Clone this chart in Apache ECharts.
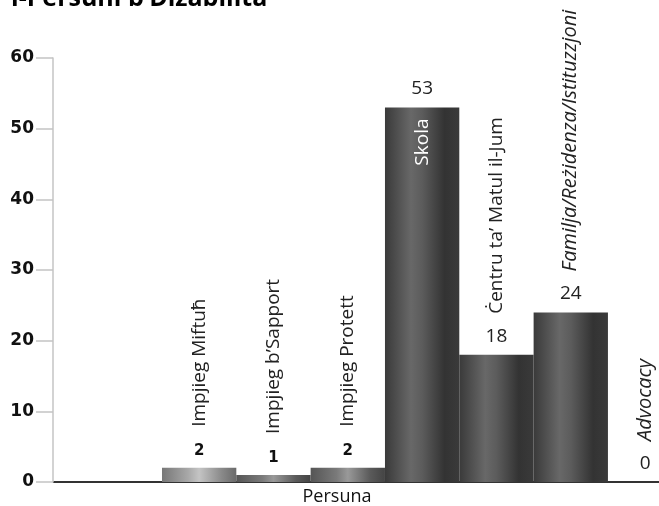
<!DOCTYPE html>
<html>
<head>
<meta charset="utf-8">
<script src="https://cdn.jsdelivr.net/npm/echarts@6/dist/echarts.min.js"></script>
<style>
  html, body { margin: 0; padding: 0; background: #fff; }
  #chart { width: 659px; height: 506px; }
</style>
</head>
<body>
<div id="chart"></div>
<script>
// data
const categories = ['Impjieg Miftuħ', 'Impjieg b’Sapport', 'Impjieg Protett', 'Skola',
  'Ċentru ta’ Matul il-Jum', 'Familja/Reżidenza/Istituzzjoni', 'Advocacy'];
const values = [2, 1, 2, 53, 18, 24, 0];
const yMax = 60;
const yStep = 10;
const xName = 'Persuna';
const titleText = 'l-Persuni b’Diżabilità';

// styles per bar (kept apart from the data)
const shades = {
  light: ['#777777', '#a8a8a8', '#c4c4c4', '#8a8a8a', '#6a6a6a'],
  mid: ['#555555', '#7a7a7a', '#999999', '#5a5a5a', '#444444'],
  dark: ['#3a3a3a', '#686868', '#5c5c5c', '#333333', '#3a3a3a']
};
const barShade = ['light', 'mid', 'mid', 'dark', 'dark', 'dark', 'dark'];
const boldValue = [true, true, true, false, false, false, false];
const italicName = [false, false, false, false, false, true, true];
const insideName = [false, false, false, true, false, false, false];

function grad(s) {
  return new echarts.graphic.LinearGradient(0, 0, 1, 0, [
    { offset: 0, color: s[0] },
    { offset: 0.35, color: s[1] },
    { offset: 0.5, color: s[2] },
    { offset: 0.8, color: s[3] },
    { offset: 1, color: s[4] }
  ]);
}

let chart = echarts.init(document.getElementById('chart'));

const axisData = [''].concat(categories);

const barData = ['-'].concat(values.map((v, i) => ({
  value: v,
  itemStyle: { color: grad(shades[barShade[i]]) },
  label: boldValue[i]
    ? { fontFamily: 'DejaVu Sans', fontWeight: 'bold', fontSize: 15, color: '#111' }
    : { fontFamily: 'Open Sans', fontWeight: 'normal', fontSize: 19, color: '#222' }
})));

const nameData = ['-'].concat(values.map((v, i) => {
  let label = italicName[i] ? { fontStyle: 'italic', fontSize: 20 } : {};
  if (insideName[i]) {
    label = { position: 'insideTop', align: 'right', distance: 11, color: '#fff' };
  }
  return { value: v, label: label };
}));

let options = {
  animation: false,
  title: {
    text: xName,
    left: 337,
    top: 488,
    padding: 0,
    textAlign: 'center',
    textStyle: { fontFamily: 'Open Sans', fontWeight: 'normal', fontSize: 18, color: '#111' }
  },
  grid: {
    left: 87.67, width: 594.6, top: 58, bottom: 24,
    containLabel: false, outerBoundsMode: 'none'
  },
  xAxis: {
    type: 'category',
    data: axisData,
    axisLine: { lineStyle: { color: '#333', width: 2 } },
    axisTick: { show: false },
    axisLabel: { show: false }
  },
  yAxis: {
    type: 'value',
    min: 0,
    max: yMax,
    interval: yStep,
    offset: 34.67,
    axisLine: { show: true, lineStyle: { color: '#c4c4c4', width: 1.5 } },
    axisTick: { show: true, length: 17, lineStyle: { color: '#c4c4c4', width: 1.5 } },
    axisLabel: { margin: 19, fontFamily: 'DejaVu Sans', fontWeight: 'bold', fontSize: 17, color: '#111' },
    splitLine: { show: false }
  },
  series: [
    {
      type: 'bar',
      data: barData,
      barCategoryGap: 0,
      barGap: '-100%',
      label: { show: true, position: 'top', distance: 9, formatter: '{c}' }
    },
    {
      type: 'bar',
      data: nameData,
      barCategoryGap: 0,
      barGap: '-100%',
      itemStyle: { color: 'rgba(0,0,0,0)' },
      silent: true,
      label: {
        show: true,
        position: 'top',
        distance: 41,
        rotate: 90,
        align: 'left',
        verticalAlign: 'middle',
        formatter: '{b}',
        fontFamily: 'Open Sans',
        fontSize: 19,
        color: '#222'
      }
    }
  ],
  graphic: [
    {
      type: 'line',
      shape: { x1: 53, y1: 482, x2: 88, y2: 482 },
      style: { stroke: '#333', lineWidth: 2 }
    },
    {
      type: 'text',
      x: 11,
      y: 11,
      style: {
        text: titleText,
        fill: '#000',
        font: 'bold 25px "Open Sans"',
        textVerticalAlign: 'bottom'
      }
    }
  ]
};

chart.setOption(options);
</script>
</body>
</html>
